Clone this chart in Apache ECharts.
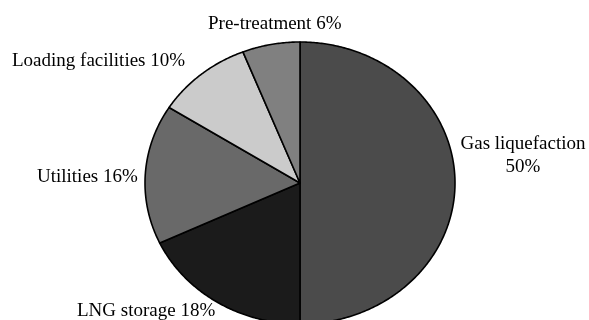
<!DOCTYPE html>
<html>
<head>
<meta charset="utf-8">
<script src="https://cdn.jsdelivr.net/npm/echarts@6/dist/echarts.min.js"></script>
<style>
  html, body { margin: 0; padding: 0; background: #ffffff; }
  #chart { width: 589px; height: 320px; }
</style>
</head>
<body>
<div id="chart"></div>
<script>
// Share of LNG plant cost by section (%), clockwise from 12 o'clock
const categories = ['Gas liquefaction', 'LNG storage', 'Utilities', 'Loading facilities', 'Pre-treatment'];
const shares = [50, 18, 16, 10, 6];
const sliceColors = ['#4b4b4b', '#1b1b1b', '#696969', '#cbcbcb', '#808080'];

// Label placement: [x, y, align] for each slice label
const labelLayout = [
  [523, 156, 'center'],
  [77, 311, 'left'],
  [37, 177, 'left'],
  [12, 61, 'left'],
  [208, 24, 'left']
];

// Elliptical pie geometry
const CX = 300, CY = 183, RX = 155, RY = 141;

const total = shares.reduce((a, b) => a + b, 0);
const starts = [];
let acc = 0;
shares.forEach(v => { starts.push(acc); acc += v; });

function labelText(i) {
  if (i === 0) return categories[i] + '\n' + shares[i] + '%';
  return categories[i] + ' ' + shares[i] + '%';
}

function renderSlice(params, api) {
  const i = params.dataIndex;
  const v = api.value(0);
  const a0 = starts[i] / total * Math.PI * 2;
  const a1 = (starts[i] + v) / total * Math.PI * 2;
  const steps = Math.max(8, Math.ceil((a1 - a0) / 0.01));
  const pts = [[CX, CY]];
  for (let k = 0; k <= steps; k++) {
    const t = a0 + (a1 - a0) * k / steps;
    pts.push([CX + RX * Math.sin(t), CY - RY * Math.cos(t)]);
  }
  const lab = labelLayout[i];
  return {
    type: 'group',
    children: [
      {
        type: 'polygon',
        shape: { points: pts },
        style: { fill: sliceColors[i], stroke: '#000000', lineWidth: 1.6, lineJoin: 'round' }
      },
      {
        type: 'text',
        x: lab[0],
        y: lab[1],
        style: {
          text: labelText(i),
          fill: '#000000',
          font: '19px "Liberation Serif", "Times New Roman", serif',
          align: lab[2],
          verticalAlign: 'middle',
          lineHeight: 23
        }
      }
    ]
  };
}

const chart = echarts.init(document.getElementById('chart'), null, { renderer: 'canvas' });
chart.setOption({
  animation: false,
  backgroundColor: '#ffffff',
  series: [{
    type: 'custom',
    coordinateSystem: 'none',
    renderItem: renderSlice,
    data: shares.map((v, i) => ({ name: categories[i], value: [v] }))
  }]
});
</script>
</body>
</html>
